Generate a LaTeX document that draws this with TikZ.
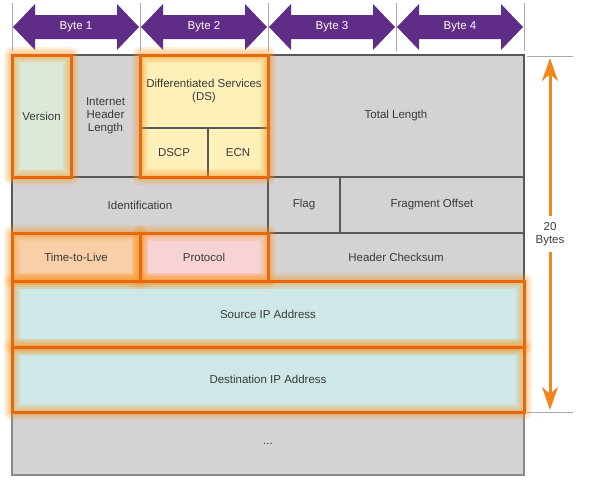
\documentclass[tikz,border=0pt]{standalone}
\usepackage{fontspec}
\setmainfont{Liberation Sans}
\usepackage{tikz}
\usetikzlibrary{arrows.meta}
\usetikzlibrary{positioning}

\definecolor{gridgrey}{HTML}{D4D2D3}
\definecolor{gridline}{HTML}{585858}
\definecolor{guide}{HTML}{A8A8A8}
\definecolor{bytepurple}{HTML}{5F2C87}
\definecolor{hlorange}{HTML}{E8680E}
\definecolor{glow}{HTML}{F7931E}
\definecolor{lenorange}{HTML}{F5841F}
\definecolor{txt}{HTML}{3A3A3A}
\definecolor{vergreen}{HTML}{DBE9D6}
\definecolor{dsyellow}{HTML}{FDF0B8}
\definecolor{ttlorange}{HTML}{F9CFA8}
\definecolor{protopink}{HTML}{F8D3D5}
\definecolor{addrteal}{HTML}{CDE8E6}

\begin{document}
\begin{tikzpicture}[x=1pt,y=-1pt,font=\fontsize{11.5}{13}\selectfont,text=txt]
            % styles
            \tikzset{
                field/.style={draw=gridline,line width=1.8pt,fill=gridgrey,anchor=north west,
                    inner sep=0pt,outer sep=0pt,align=center},
                hlglow/.style={draw=glow,line width=#1,opacity=0.14,line join=round},
                hlbox/.style={draw=hlorange,line width=3pt},
                bytearrow/.style={fill=bytepurple},
                lenarrow/.style={-{Stealth[length=23pt,width=16pt,inset=7pt]},draw=lenorange,line width=3pt},
                guideline/.style={draw=guide,line width=1pt}
            }
            \useasboundingbox (0,0) rectangle (590,483);

            % byte arrows on top
            \foreach \i/\xa/\xb in {1/12/140,2/140/268,3/268/396,4/396/524}{
                \draw[guideline] (\xa,3) -- (\xa,51);
                \fill[bytearrow] (\xa+1,27) -- (\xa+23,4) -- (\xa+23,15) -- (\xb-23,15)
                    -- (\xb-23,4) -- (\xb-1,27) -- (\xb-23,50) -- (\xb-23,39)
                    -- (\xa+23,39) -- (\xa+23,50) -- cycle;
                \node[text=white] (byte\i) at ({(\xa+\xb)/2},27) {Byte \i};
            }
            \draw[guideline] (524,3) -- (524,51);

            % header fields
            \node[field,fill=vergreen,minimum width=59,minimum height=122] (ver) at (12,55) {Version};
            \node[field,minimum width=69,minimum height=122] (ihl) at (71,55) {Internet\\Header\\Length};
            \node[field,fill=dsyellow,minimum width=128,minimum height=73] (ds) at (140,55) {Differentiated Services\\(DS)};
            \node[field,fill=dsyellow,minimum width=68,minimum height=49] (dscp) at (140,128) {DSCP};
            \node[field,fill=dsyellow,minimum width=60,minimum height=49] (ecn) at (208,128) {ECN};
            \node[field,minimum width=256,minimum height=122] (total) at (268,55) {Total Length};
            \node[field,minimum width=256,minimum height=56] (ident) at (12,177) {Identification};
            \node[field,minimum width=72,minimum height=56] (flag) at (268,177) {Flag};
            \node[field,minimum width=184,minimum height=56] (frag) at (340,177) {Fragment Offset};
            \node[field,fill=ttlorange,minimum width=128,minimum height=48] (ttl) at (12,233) {Time-to-Live};
            \node[field,fill=protopink,minimum width=128,minimum height=48] (proto) at (140,233) {Protocol};
            \node[field,minimum width=256,minimum height=48] (check) at (268,233) {Header Checksum};
            \node[field,fill=addrteal,minimum width=512,minimum height=66] (src) at (12,281) {Source IP Address};
            \node[field,fill=addrteal,minimum width=512,minimum height=65] (dst) at (12,347) {Destination IP Address};
            \node[field,draw=gridline!70,minimum width=512,minimum height=63] (more) at (12,412) {...};

            % highlighted fields
            \foreach \w in {16pt,12pt,8pt,5pt}{
                \draw[hlglow=\w] (ver.north west) rectangle (ver.south east);
                \draw[hlglow=\w] (ds.north west) rectangle (ecn.south east);
                \draw[hlglow=\w] (ttl.north west) rectangle (ttl.south east);
                \draw[hlglow=\w] (proto.north west) rectangle (proto.south east);
                \draw[hlglow=\w] (src.north west) rectangle (src.south east);
                \draw[hlglow=\w] (dst.north west) rectangle (dst.south east);
            }
            \draw[hlbox] (ver.north west) rectangle (ver.south east);
            \draw[hlbox] (ds.north west) rectangle (ecn.south east);
            \draw[hlbox] (ttl.north west) rectangle (ttl.south east);
            \draw[hlbox] (proto.north west) rectangle (proto.south east);
            \draw[hlbox] (src.north west) rectangle (src.south east);
            \draw[hlbox] (dst.north west) rectangle (dst.south east);

            % header length
            \draw[guideline] (527,56) -- (573,56);
            \draw[guideline] (527,412) -- (573,412);
            \coordinate (lentop) at (550,58);
            \coordinate (lenbot) at (550,410);
            \node[align=center,inner sep=6pt] (len) at (550,234) {20\\Bytes};
            \draw[lenarrow] (len) -- (lentop);
            \draw[lenarrow] (len) -- (lenbot);
        \end{tikzpicture}
\end{document}
